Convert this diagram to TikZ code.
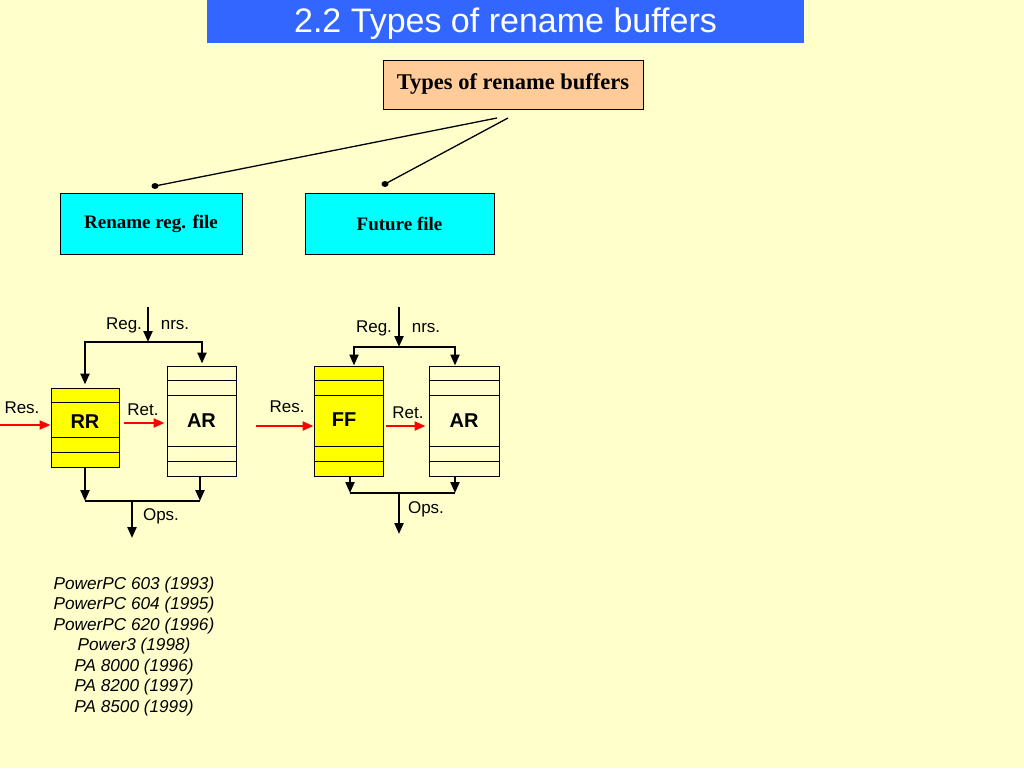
\documentclass[tikz,border=0pt]{standalone}
\usepackage{fontspec}
\setmainfont{Liberation Serif}
\setsansfont{Liberation Sans}
\usetikzlibrary{arrows.meta,calc}

\definecolor{bgyellow}{RGB}{255,255,204}
\definecolor{titleblue}{RGB}{51,102,255}
\definecolor{peach}{RGB}{255,204,153}
\definecolor{regyellow}{RGB}{255,255,0}
\definecolor{boxcyan}{RGB}{0,255,255}

\tikzset{
  head/.style={draw, line width=1pt, font=\bfseries\fontsize{19}{22}\selectfont},
  regfile/.style={draw, line width=1pt, minimum width=69pt, minimum height=110pt, inner sep=0pt,
    font=\sffamily\bfseries\fontsize{20}{24}\selectfont},
  stripe/.style={line width=1.5pt},
  flow/.style={line width=2.2pt, -{Triangle[length=11pt,width=9pt]}},
  resflow/.style={flow, red},
  lbl/.style={font=\sffamily\fontsize{17}{20}\selectfont}
}

\begin{document}
\begin{tikzpicture}[x=1pt, y=-1pt]
  \fill[bgyellow] (0,0) rectangle (1024,768);
  \useasboundingbox (0,0) rectangle (1024,768);

  % Title bar
  \fill[titleblue] (207,0) rectangle (804,43);
  \node[text=white, font=\sffamily\fontsize{34}{38}\selectfont] (title) at (505.5,24) {2.2 Types of rename buffers};

  % Classification tree
  \node[head, fill=peach, minimum width=260pt, minimum height=49pt, font=\bfseries\fontsize{22.5}{26}\selectfont] (types) at (513,84.5) {Types of rename buffers};
  \node[head, fill=boxcyan, minimum width=182pt, minimum height=61pt] (rrf) at (151,223.5) {Rename reg. file};
  \node[head, fill=boxcyan, minimum width=189pt, minimum height=61pt] (fuf) at (399.5,223.5) {Future file};
  \coordinate (t1) at (497,118);
  \coordinate (t2) at (508,118);
  \coordinate (d1) at (155,186);
  \coordinate (d2) at (385,184);
  \draw[line width=1.3pt] (t1) -- (d1);
  \draw[line width=1.3pt] (t2) -- (d2);
  \fill (d1) ellipse (3.5pt and 3pt);
  \fill (d2) ellipse (3.5pt and 3pt);

  % Rename register file
  \node[regfile, fill=regyellow, minimum width=68pt, minimum height=79pt] (rr) at (85,427.5) {};
  \node[regfile, draw=none, fill=none] (rrtext) at (85,422) {RR};
  \node[regfile] (arL) at (201.5,421) {AR};
  \foreach \d in {15,50,65}
    \draw[stripe] ($(rr.north west)+(0,\d)$) -- ($(rr.north east)+(0,\d)$);
  \foreach \d in {15,30,81,96}
    \draw[stripe] ($(arL.north west)+(0,\d)$) -- ($(arL.north east)+(0,\d)$);

  \coordinate (regL) at (148,307);
  \coordinate (splitL) at (148,342);
  \draw[flow] (regL) -- (splitL);
  \draw[flow, shorten >=3pt] (splitL) -| (rr.north);
  \draw[flow, shorten >=2pt] (splitL) -| ([xshift=0.5pt]arL.north);
  \node[lbl] at (124,325) {Reg.};
  \node[lbl] at (175,325) {nrs.};

  \coordinate (resL) at (0,425);
  \draw[resflow] (resL) -- (rr.west |- resL);
  \node[lbl] at (22,408) {Res.};
  \draw[resflow, shorten <=4pt, shorten >=2pt] (rr.east |- 0,423) -- (arL.west |- 0,423);
  \node[lbl] at (143,410) {Ret.};

  \coordinate (joinL) at (132,501);
  \draw[flow] (rr.south) -- (rr.south |- joinL);
  \draw[flow] ([xshift=-1.5pt]arL.south) -- ([xshift=-1.5pt]arL.south |- joinL);
  \draw[line width=2.2pt] (rr.south |- joinL) -- ([xshift=-1.5pt]arL.south |- joinL);
  \draw[flow] (joinL) -- ++(0,37);
  \node[lbl] at (161,516) {Ops.};

  % Future file
  \node[regfile, fill=regyellow] (ff) at (348.5,421) {};
  \node[regfile, draw=none, fill=none] (fftext) at (344,420) {FF};
  \node[regfile, minimum width=70pt] (arR) at (464,421) {AR};
  \foreach \d in {15,30,81,96} {
    \draw[stripe] ($(ff.north west)+(0,\d)$) -- ($(ff.north east)+(0,\d)$);
    \draw[stripe] ($(arR.north west)+(0,\d)$) -- ($(arR.north east)+(0,\d)$);
  }

  \coordinate (regR) at (399,307);
  \coordinate (splitR) at (399,347);
  \draw[flow] (regR) -- (splitR);
  \draw[flow] (splitR) -| ([xshift=5.5pt]ff.north);
  \draw[flow] (splitR) -| ([xshift=-9pt]arR.north);
  \node[lbl] at (374,328) {Reg.};
  \node[lbl] at (426,328) {nrs.};

  \coordinate (resR) at (256,426);
  \draw[resflow] (resR) -- (ff.west |- resR);
  \node[lbl] at (287,407) {Res.};
  \draw[resflow, shorten <=2pt, shorten >=3pt] (ff.east |- resR) -- (arR.west |- resR);
  \node[lbl] at (408,413) {Ret.};

  \coordinate (joinR) at (399,493);
  \draw[flow] ([xshift=1.5pt]ff.south) -- ([xshift=1.5pt]ff.south |- joinR);
  \draw[flow] ([xshift=-9pt]arR.south) -- ([xshift=-9pt]arR.south |- joinR);
  \draw[line width=2.2pt] ([xshift=1.5pt]ff.south |- joinR) -- ([xshift=-9pt]arR.south |- joinR);
  \draw[flow] (joinR) -- ++(0,41);
  \node[lbl] at (426,509) {Ops.};

  % Implementations
  \node[align=center, font=\sffamily\itshape\fontsize{17.2}{20.5}\selectfont] (chips) at (134,646.5)
    {PowerPC 603 (1993)\\PowerPC 604 (1995)\\PowerPC 620 (1996)\\Power3 (1998)\\PA 8000 (1996)\\PA 8200 (1997)\\PA 8500 (1999)};
\end{tikzpicture}
\end{document}
